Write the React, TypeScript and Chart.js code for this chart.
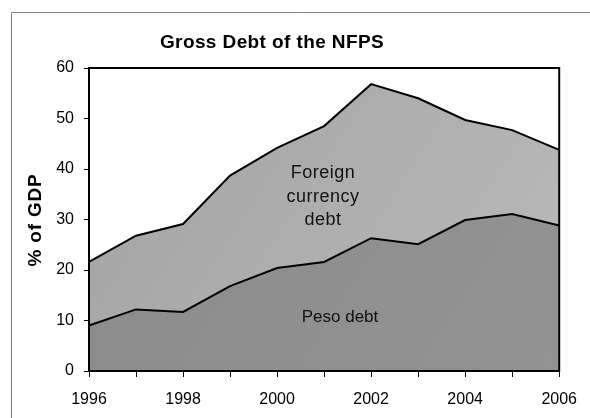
import React, { useEffect, useRef } from "react";
import { Chart, registerables } from "chart.js";

Chart.register(...registerables);

const years = ["1996", "1997", "1998", "1999", "2000", "2001", "2002", "2003", "2004", "2005", "2006"];
const pesoDebt = [9.0, 12.2, 11.7, 16.8, 20.4, 21.6, 26.3, 25.1, 29.9, 31.1, 28.8];
const totalDebt = [21.6, 26.8, 29.1, 38.7, 44.2, 48.5, 56.8, 54.0, 49.7, 47.7, 43.8];
const titleText = "Gross Debt of the NFPS";
const yAxisTitle = "% of GDP";
const foreignLabel = ["Foreign", "currency", "debt"];
const pesoLabel = "Peso debt";

const FONT = "'Liberation Sans', Arial, sans-serif";

function gradientFill(c1: string, c2: string) {
  return (ctx: any) => {
    const chart = ctx.chart;
    const area = chart.chartArea;
    if (!area) return c1;
    const g = chart.ctx.createLinearGradient(area.left, area.top, area.right, area.bottom);
    g.addColorStop(0, c1);
    g.addColorStop(1, c2);
    return g;
  };
}

const decorPlugin = {
  id: "decor",
  beforeDraw(chart: any) {
    const c = chart.ctx;
    c.save();
    c.fillStyle = "#ffffff";
    c.fillRect(0, 0, chart.width, chart.height);
    c.strokeStyle = "#808080";
    c.lineWidth = 1;
    c.beginPath();
    c.moveTo(11.5, chart.height);
    c.lineTo(11.5, 12.5);
    c.lineTo(chart.width, 12.5);
    c.stroke();
    // title
    c.fillStyle = "#000";
    c.font = `bold 19px ${FONT}`;
    (c as any).letterSpacing = "0.4px";
    c.textAlign = "center";
    c.textBaseline = "middle";
    c.fillText(titleText, 272, 43);
    // y title
    c.save();
    c.translate(36, 220);
    c.rotate(-Math.PI / 2);
    c.font = `bold 19px ${FONT}`;
    (c as any).letterSpacing = "0.8px";
    c.fillText(yAxisTitle, 0, 0);
    c.restore();
    c.restore();
  },
  afterDatasetsDraw(chart: any) {
    const c = chart.ctx;
    const a = chart.chartArea;
    c.save();
    c.strokeStyle = "#000";
    c.lineWidth = 2;
    c.strokeRect(a.left, a.top, a.right - a.left, a.bottom - a.top);
    c.fillStyle = "#111";
    c.textAlign = "center";
    c.textBaseline = "middle";
    c.font = `18px ${FONT}`;
    (c as any).letterSpacing = "0.5px";
    const ys = [173, 197, 220];
    foreignLabel.forEach((t, i) => c.fillText(t, 323, ys[i]));
    c.font = `17px ${FONT}`;
    (c as any).letterSpacing = "0px";
    c.fillText(pesoLabel, 340, 317);
    c.restore();
  },
};

export default function App() {
  const ref = useRef<HTMLCanvasElement>(null);
  useEffect(() => {
    if (!ref.current) return;
    const chart = new Chart(ref.current, {
      type: "line",
      data: {
        labels: years,
        datasets: [
          {
            label: "Peso debt",
            data: pesoDebt,
            fill: "origin",
            backgroundColor: gradientFill("#8a8a8a", "#939393"),
            borderColor: "#000",
            borderWidth: 2,
            pointRadius: 0,
            tension: 0,
          },
          {
            label: "Foreign currency debt",
            data: totalDebt,
            fill: "-1",
            backgroundColor: gradientFill("#a2a2a2", "#bababa"),
            borderColor: "#000",
            borderWidth: 2,
            pointRadius: 0,
            tension: 0,
          },
        ],
      },
      options: {
        animation: false,
        responsive: false,
        maintainAspectRatio: false,
        layout: { padding: { left: 0, top: 68, right: 21, bottom: 0 } },
        plugins: {
          legend: { display: false },
          title: { display: false },
          tooltip: { enabled: false },
        },
        scales: {
          x: {
            type: "category",
            offset: false,
            afterFit: (s: any) => {
              s.height = 47;
            },
            grid: {
              drawOnChartArea: false,
              drawTicks: true,
              tickLength: 6,
              color: "#000",
              lineWidth: 1,
            },
            border: { display: true, color: "#000", width: 2 },
            ticks: {
              autoSkip: false,
              maxRotation: 0,
              minRotation: 0,
              padding: 13,
              color: "#000",
              font: { family: FONT, size: 16 },
              callback: (_v: any, i: number) => (i % 2 === 0 ? years[i] : ""),
            },
          },
          y: {
            min: 0,
            max: 60,
            afterFit: (s: any) => {
              s.width = 89;
            },
            grid: {
              drawOnChartArea: false,
              drawTicks: true,
              tickLength: 5,
              color: "#000",
              lineWidth: 1,
            },
            border: { display: true, color: "#000", width: 2 },
            ticks: {
              stepSize: 10,
              padding: 10,
              color: "#000",
              font: { family: FONT, size: 16 },
            },
          },
        },
      },
      plugins: [decorPlugin],
    });
    return () => chart.destroy();
  }, []);
  return (
    <div style={{ position: "fixed", left: 0, top: 0, width: 590, height: 418, background: "#fff" }}>
      <canvas ref={ref} width={590} height={418} style={{ display: "block", width: 590, height: 418 }} />
    </div>
  );
}
